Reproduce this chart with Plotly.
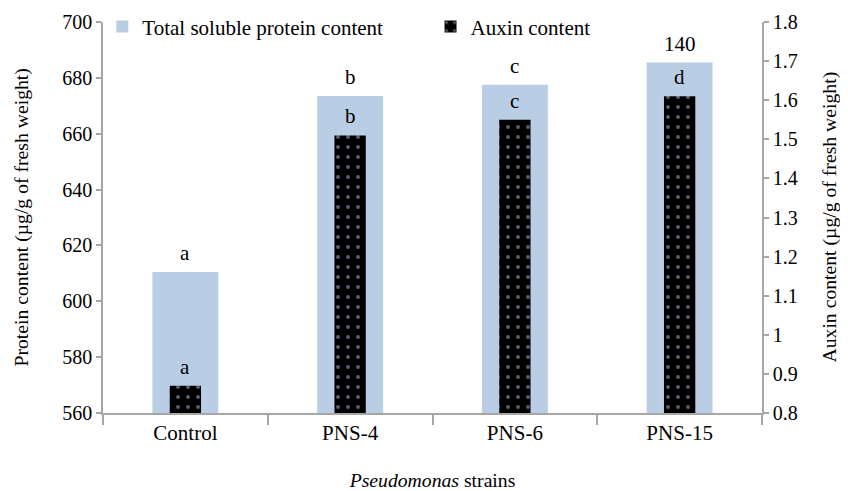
import plotly.graph_objects as go

strains = ["Control", "PNS-4", "PNS-6", "PNS-15"]
protein = [610.5, 673.5, 677.5, 685.5]
auxin = [0.87, 1.51, 1.55, 1.61]
protein_labels = ["a", "b", "c", "140"]
auxin_labels = ["a", "b", "c", "d"]
y1_ticks = [560, 580, 600, 620, 640, 660, 680, 700]
y2_ticks = [0.8, 0.9, 1.0, 1.1, 1.2, 1.3, 1.4, 1.5, 1.6, 1.7, 1.8]
y2_ticktext = ["0.8", "0.9", "1", "1.1", "1.2", "1.3", "1.4", "1.5", "1.6", "1.7", "1.8"]
y1_title = "Protein content (µg/g of fresh weight)"
y2_title = "Auxin content (µg/g of fresh weight)"
x_title = "<i>Pseudomonas</i> strains"

FONT = "Liberation Serif"
FS = 21
FT = 19.7
FY = 20
AX = "#a6a6a6"

fig = go.Figure()
fig.add_trace(go.Bar(
    x=strains, y=protein, name="Total soluble protein content",
    marker=dict(color="#B9CDE5", line=dict(width=0)),
    width=0.4, yaxis="y", legend="legend",
))
fig.add_trace(go.Bar(
    x=strains, y=[a - 0.8 for a in auxin], base=0.8, name="Auxin content",
    marker=dict(color="black", line=dict(width=0),
                pattern=dict(shape=".", fgcolor="#b4c2da", bgcolor="black",
                             size=10, solidity=0.12)),
    width=0.19, yaxis="y2", legend="legend2",
))

annotations = []
for s, v, t in zip(strains, protein, protein_labels):
    annotations.append(dict(x=s, y=v, xref="x", yref="y", text=t, showarrow=False,
                            yanchor="middle", yshift=19, font=dict(family=FONT, size=FS, color="black")))
for s, v, t in zip(strains, auxin, auxin_labels):
    annotations.append(dict(x=s, y=v, xref="x", yref="y2", text=t, showarrow=False,
                            yanchor="middle", yshift=19, font=dict(family=FONT, size=FS, color="black")))
# axis titles as rotated annotations centred on the plot height
annotations.append(dict(x=0, y=0.5, xref="paper", yref="paper", text=y1_title, textangle=-90,
                        showarrow=False, xanchor="center", yanchor="middle", xshift=-82,
                        font=dict(family=FONT, size=FT, color="black")))
annotations.append(dict(x=1, y=0.5, xref="paper", yref="paper", text=y2_title, textangle=-90,
                        showarrow=False, xanchor="center", yanchor="middle", xshift=67,
                        font=dict(family=FONT, size=FT, color="black")))

leg_common = dict(orientation="h", y=1.04, xanchor="left", yanchor="top",
                  bgcolor="rgba(0,0,0,0)", font=dict(family=FONT, size=FS, color="black"),
                  itemwidth=30)

fig.update_layout(
    width=840, height=483,
    margin=dict(l=95, r=86, t=14, b=78, autoexpand=False),
    paper_bgcolor="white", plot_bgcolor="white",
    barmode="overlay",
    font=dict(family=FONT, size=FS, color="black"),
    showlegend=True,
    legend=dict(x=-0.001, **leg_common),
    legend2=dict(x=0.497, **leg_common),
    xaxis=dict(type="category", showline=True, linecolor=AX, linewidth=1.5,
               ticks="outside", tickson="boundaries", ticklen=10, tickcolor=AX, tickwidth=1.5,
               tickfont=dict(family=FONT, size=FS),
               title=dict(text=x_title, font=dict(family=FONT, size=FT), standoff=33),
               showgrid=False, zeroline=False, mirror=False),
    yaxis=dict(range=[560, 700], tickvals=y1_ticks, showline=True, linecolor=AX, linewidth=1.5,
               ticks="outside", ticklen=5, tickcolor=AX, tickwidth=1.5, showgrid=False, zeroline=False,
               tickfont=dict(family=FONT, size=FY)),
    yaxis2=dict(range=[0.8, 1.8], tickvals=y2_ticks, ticktext=y2_ticktext, overlaying="y", side="right",
                showline=True, linecolor=AX, linewidth=1.5, ticks="outside", ticklen=5, tickcolor=AX,
                tickwidth=1.5, showgrid=False, zeroline=False, tickfont=dict(family=FONT, size=FY)),
    annotations=annotations,
)

fig.write_html("out.html")
